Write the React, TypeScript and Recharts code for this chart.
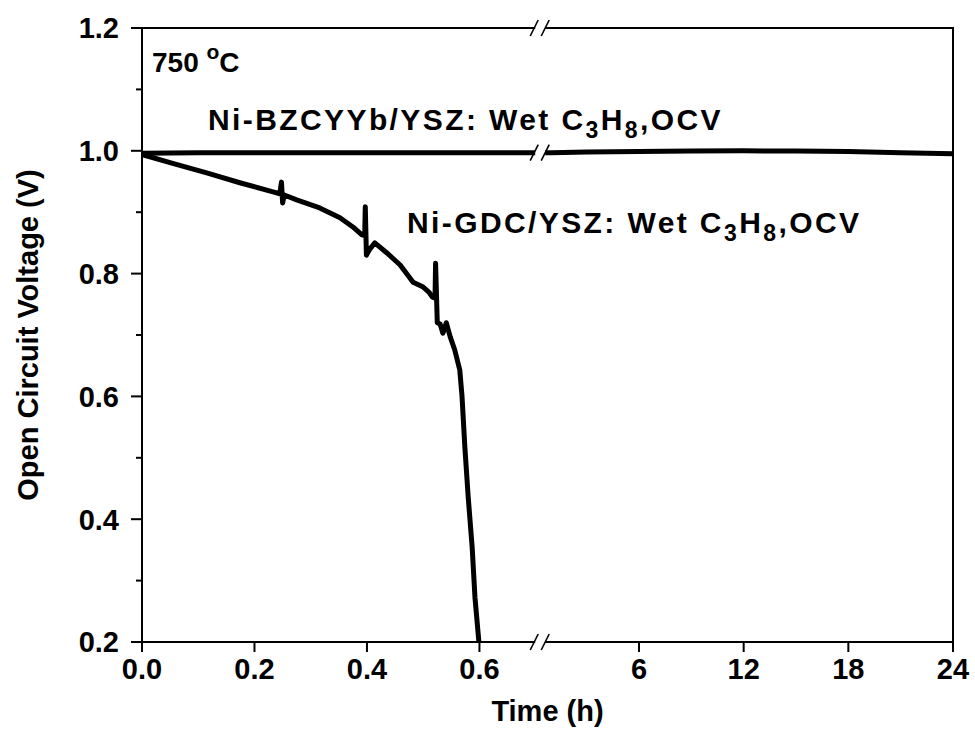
import React from 'react';
import { LineChart, Line, XAxis, YAxis, ReferenceDot, ReferenceArea } from 'recharts';

// Ni-GDC/YSZ, wet C3H8, OCV vs time (h) on the short (0-0.7 h) part of the axis
const gdcTime = [0, 0.053, 0.115, 0.174, 0.233, 0.245, 0.248, 0.25, 0.253, 0.275, 0.316, 0.352, 0.375, 0.391,
  0.396, 0.397, 0.399, 0.405, 0.414, 0.435, 0.459, 0.482, 0.5, 0.51, 0.516, 0.521, 0.522, 0.525, 0.53, 0.535,
  0.541, 0.548, 0.556, 0.565, 0.569, 0.574, 0.58, 0.587, 0.592, 0.599];
const gdcVoltage = [0.994, 0.98, 0.964, 0.948, 0.933, 0.93, 0.949, 0.915, 0.928, 0.92, 0.907, 0.891, 0.876, 0.863,
  0.862, 0.909, 0.83, 0.84, 0.85, 0.834, 0.814, 0.786, 0.778, 0.77, 0.762, 0.76, 0.817, 0.72, 0.718, 0.703,
  0.72, 0.697, 0.676, 0.643, 0.6, 0.518, 0.436, 0.355, 0.273, 0.2];

// Ni-BZCYYb/YSZ: short part (h) and long part (h)
const bzcShortTime = [0, 0.1, 0.2, 0.3, 0.4, 0.5, 0.6, 0.7];
const bzcShortVoltage = [0.996, 0.997, 0.997, 0.997, 0.997, 0.997, 0.997, 0.997];
const bzcLongTime = [1, 3, 6, 9, 12, 15, 18, 21, 24];
const bzcLongVoltage = [0.997, 0.998, 0.999, 0.9995, 1.0, 0.9995, 0.999, 0.997, 0.995];

const shortTicks = [0, 0.2, 0.4, 0.6];
const longTicks = [6, 12, 18, 24];
const yMajor = [0.2, 0.4, 0.6, 0.8, 1.0, 1.2];
const yMinor = [0.3, 0.5, 0.7, 0.9, 1.1];

// broken axis: both parts share one linear "u" axis
const SHORT_U_PER_H = 5;
const LONG_U0 = 3.488;
const LONG_U_PER_H = 0.15508;
const BREAK_U = 3.54;
const shortU = (t: number) => t * SHORT_U_PER_H;
const longU = (h: number) => LONG_U0 + h * LONG_U_PER_H;
const U_MAX = longU(24);

const gdcData = gdcTime.map((t, i) => ({ u: shortU(t), v: gdcVoltage[i] }));
const bzcData = [
  ...bzcShortTime.map((t, i) => ({ u: shortU(t), v: bzcShortVoltage[i] })),
  ...bzcLongTime.map((h, i) => ({ u: longU(h), v: bzcLongVoltage[i] })),
];

const xTickU = [...shortTicks.map(shortU), ...longTicks.map(longU)];
const xTickLabels = [...shortTicks.map((t) => t.toFixed(1)), ...longTicks.map(String)];
const yTicks = [...yMajor, ...yMinor].sort((a, b) => a - b);

const FONT = '"Liberation Sans", Arial, sans-serif';
const textStyle = { fontFamily: FONT, fontWeight: 700, fontSize: 29, fill: '#000' };

const X_TICK = 10;
const X_MARGIN = 6;
const Y_TICK = 11;
const Y_MARGIN = 12;

const XTick = (props: any) => {
  const { x, y, payload } = props;
  let idx = xTickU.indexOf(payload.value);
  if (idx < 0) idx = xTickU.findIndex((u) => Math.abs(u - payload.value) < 1e-6);
  return (
    <g>
      <line x1={x} x2={x} y1={y - X_MARGIN - X_TICK} y2={y - X_MARGIN} stroke="#000" strokeWidth={2} />
      <text x={x} y={y} dy="0.74em" textAnchor="middle" style={textStyle}>{xTickLabels[idx]}</text>
    </g>
  );
};

const YTick = (props: any) => {
  const { x, y, payload } = props;
  const major = yMajor.some((m) => Math.abs(m - payload.value) < 1e-6);
  const right = x + Y_MARGIN + Y_TICK;
  return (
    <g>
      <line x1={major ? right - Y_TICK : right - 6} x2={right} y1={y} y2={y} stroke="#000" strokeWidth={2} />
      {major && (
        <text x={x} y={y} dy="0.36em" textAnchor="end" style={textStyle}>{payload.value.toFixed(1)}</text>
      )}
    </g>
  );
};

const BreakMark = (props: any) => {
  const { cx, cy } = props;
  return (
    <g>
      <rect x={cx - 5} y={cy - 5} width={10} height={10} fill="#fff" />
      <line x1={cx - 10} y1={cy + 8} x2={cx - 2} y2={cy - 8} stroke="#000" strokeWidth={1.6} />
      <line x1={cx + 1} y1={cy + 8} x2={cx + 9} y2={cy - 8} stroke="#000" strokeWidth={1.6} />
    </g>
  );
};

const tempStyle = { ...textStyle, fontSize: 28 };
const seriesStyle = { ...textStyle, fontSize: 30, letterSpacing: 2.4 };

const TempLabel = (props: any) => (
  <text x={props.cx} y={props.cy} style={tempStyle}>
    750 <tspan dy={-13} fontSize={21}>o</tspan><tspan dy={13}>C</tspan>
  </text>
);

const makeSeriesLabel = (name: string) => (props: any) => (
  <text x={props.cx} y={props.cy} style={seriesStyle}>
    {name}: Wet C<tspan dy={8} fontSize={23}>3</tspan><tspan dy={-8}>H</tspan>
    <tspan dy={8} fontSize={23}>8</tspan><tspan dy={-8}>,OCV</tspan>
  </text>
);

export default function App() {
  return (
    <div style={{ position: 'absolute', left: 0, top: 0, width: 975, height: 735, background: '#fff' }}>
      <LineChart width={975} height={735} margin={{ top: 28, right: 22, bottom: 8, left: 10 }}>
        <XAxis type="number" dataKey="u" domain={[0, U_MAX]} ticks={xTickU} interval={0}
          tick={<XTick />} tickLine={false} tickSize={X_TICK} tickMargin={X_MARGIN}
          axisLine={{ stroke: '#000', strokeWidth: 2 }} height={85}
          label={{ value: 'Time (h)', position: 'insideBottom', offset: 6, style: textStyle }} />
        <YAxis type="number" domain={[0.2, 1.2]} ticks={yTicks} interval={0} width={132}
          tick={<YTick />} tickLine={false} tickSize={Y_TICK} tickMargin={Y_MARGIN}
          axisLine={{ stroke: '#000', strokeWidth: 2 }}
          label={{ value: 'Open Circuit Voltage (V)', angle: -90, position: 'insideLeft', offset: 18,
            style: { ...textStyle, textAnchor: 'middle' } }} />

        {/* plot frame (top and right edges) */}
        <ReferenceArea x1={0} x2={U_MAX} y1={0.2} y2={1.2} ifOverflow="visible"
          fill="none" fillOpacity={0} stroke="#000" strokeWidth={2} />

        <Line data={bzcData} dataKey="v" type="linear" stroke="#000" strokeWidth={5}
          dot={false} activeDot={false} isAnimationActive={false} />
        <Line data={gdcData} dataKey="v" type="linear" stroke="#000" strokeWidth={5}
          dot={false} activeDot={false} isAnimationActive={false} strokeLinejoin="round" />

        <ReferenceDot x={BREAK_U} y={1.2} ifOverflow="visible" shape={<BreakMark />} />
        <ReferenceDot x={BREAK_U} y={0.2} ifOverflow="visible" shape={<BreakMark />} />
        <ReferenceDot x={BREAK_U} y={0.997} ifOverflow="visible" shape={<BreakMark />} />

        <ReferenceDot x={0.089} y={1.129} ifOverflow="visible" shape={<TempLabel />} />
        <ReferenceDot x={0.587} y={1.034} ifOverflow="visible" shape={makeSeriesLabel('Ni-BZCYYb/YSZ')} />
        <ReferenceDot x={2.356} y={0.866} ifOverflow="visible" shape={makeSeriesLabel('Ni-GDC/YSZ')} />
      </LineChart>
    </div>
  );
}
